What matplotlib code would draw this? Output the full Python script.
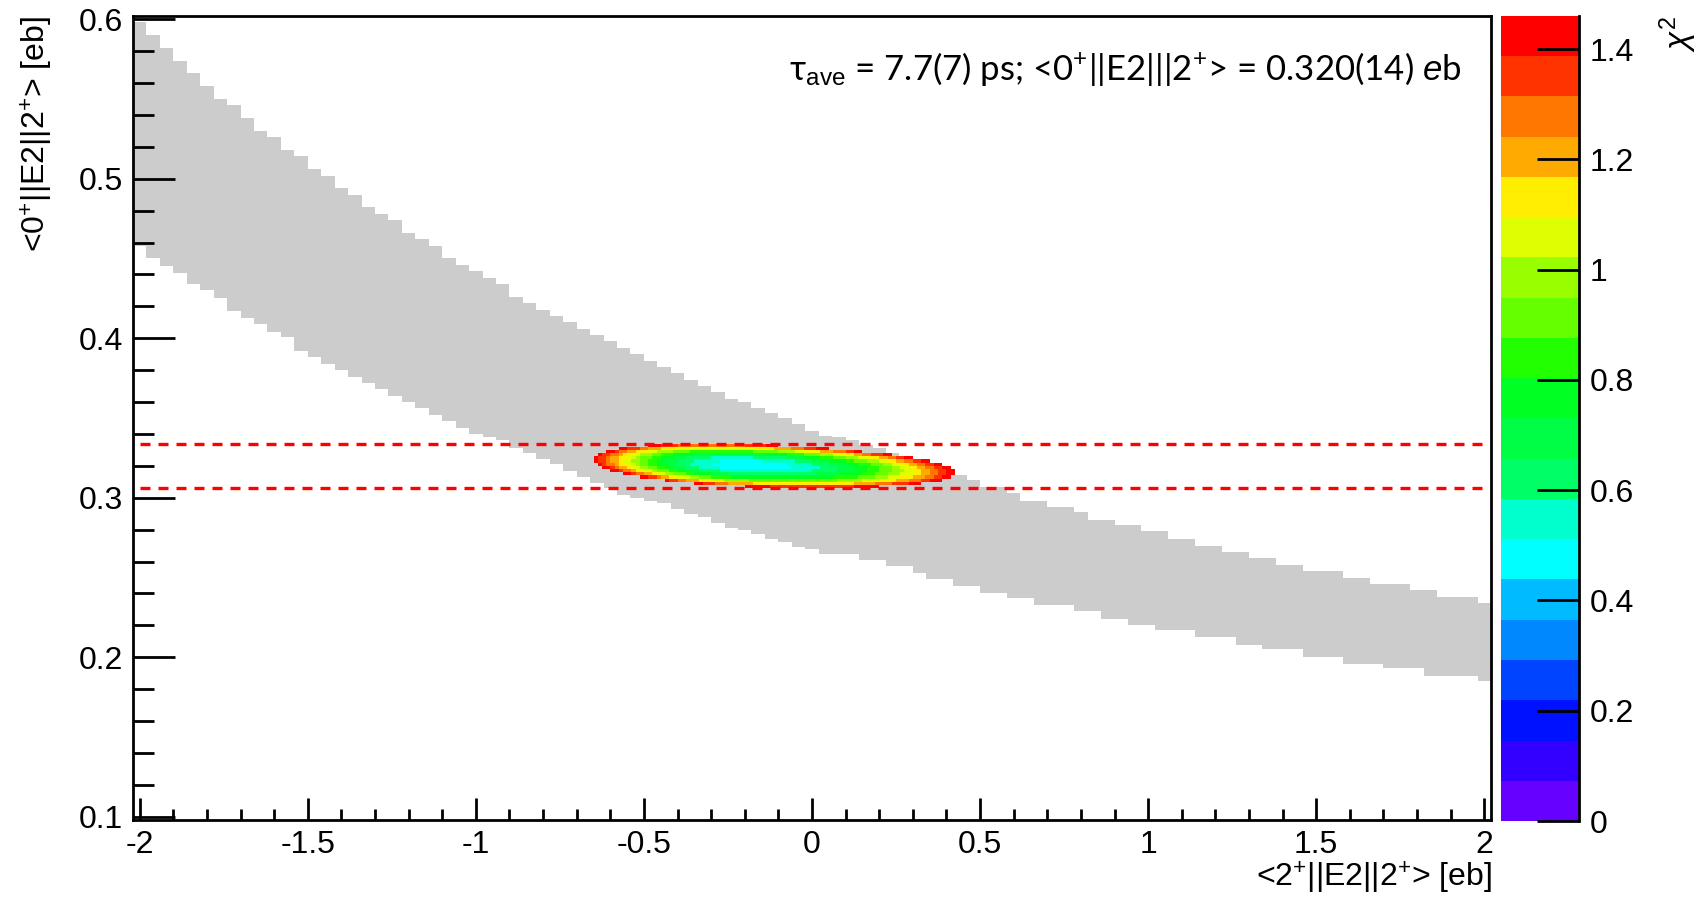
import numpy as np
import matplotlib
matplotlib.use("Agg")
import matplotlib.pyplot as plt
from matplotlib.colors import ListedColormap, BoundaryNorm
from matplotlib.ticker import MultipleLocator, FuncFormatter

# allowed band (grey), one value per x bin (bin width 0.04)
band_x = np.round(np.linspace(-2.0, 2.0, 101), 2)
band_upper = [0.598, 0.590, 0.582, 0.574, 0.566, 0.558, 0.550, 0.546, 0.538, 0.530,
              0.526, 0.518, 0.514, 0.506, 0.502, 0.494, 0.490, 0.482, 0.478, 0.474,
              0.466, 0.462, 0.458, 0.450, 0.446, 0.442, 0.438, 0.434, 0.426, 0.422,
              0.418, 0.414, 0.410, 0.406, 0.402, 0.398, 0.394, 0.390, 0.386, 0.382,
              0.378, 0.374, 0.370, 0.366, 0.362, 0.360, 0.356, 0.353, 0.350, 0.346,
              0.342, 0.339, 0.338, 0.336, 0.333, 0.331, 0.328, 0.325, 0.322, 0.319,
              0.316, 0.314, 0.311, 0.307, 0.307, 0.303, 0.298, 0.298, 0.294, 0.294,
              0.291, 0.286, 0.286, 0.283, 0.283, 0.279, 0.279, 0.274, 0.274, 0.270,
              0.270, 0.266, 0.266, 0.262, 0.262, 0.258, 0.258, 0.254, 0.254, 0.254,
              0.250, 0.250, 0.246, 0.246, 0.246, 0.242, 0.242, 0.238, 0.238, 0.238,
              0.234]
band_lower = [0.458, 0.450, 0.445, 0.441, 0.434, 0.430, 0.425, 0.417, 0.413, 0.409,
              0.404, 0.401, 0.392, 0.388, 0.384, 0.380, 0.376, 0.372, 0.368, 0.364,
              0.360, 0.356, 0.352, 0.348, 0.344, 0.340, 0.338, 0.336, 0.331, 0.328,
              0.324, 0.321, 0.317, 0.313, 0.309, 0.306, 0.302, 0.300, 0.298, 0.297,
              0.293, 0.290, 0.288, 0.284, 0.281, 0.280, 0.277, 0.274, 0.272, 0.269,
              0.268, 0.265, 0.265, 0.265, 0.261, 0.261, 0.257, 0.257, 0.253, 0.249,
              0.249, 0.245, 0.245, 0.240, 0.240, 0.237, 0.237, 0.233, 0.233, 0.233,
              0.229, 0.229, 0.224, 0.224, 0.220, 0.220, 0.217, 0.217, 0.217, 0.213,
              0.213, 0.213, 0.208, 0.208, 0.205, 0.205, 0.205, 0.200, 0.200, 0.200,
              0.196, 0.196, 0.196, 0.193, 0.193, 0.193, 0.188, 0.188, 0.188, 0.188,
              0.185]

# chi2 minimum and extent of the chi2 < chi2_max region
fit_x0 = -0.20
fit_y0 = 0.3205
fit_slope = -0.0077
chi2_min = 0.46
chi2_max = 1.46
half_left = 0.45
half_right = 0.63
half_y = 0.0135

# measured value of <0+||E2||2+> with error (dashed lines)
me_value = 0.320
me_error = 0.014

palette = ["#6600ff", "#3300ff", "#0011ff", "#0044ff", "#0088ff", "#00bbff", "#00ffff",
           "#00ffcc", "#00ff66", "#00ff44", "#00ff22", "#22ff00", "#66ff00", "#99ff00",
           "#ddff00", "#ffee00", "#ffaa00", "#ff7700", "#ff3300", "#ff0000"]

plt.rcParams["font.family"] = ["Liberation Sans", "DejaVu Sans"]
plt.rcParams["mathtext.fontset"] = "custom"
plt.rcParams["mathtext.rm"] = "Liberation Sans"
plt.rcParams["mathtext.it"] = "Liberation Sans:italic"
plt.rcParams["mathtext.bf"] = "Liberation Sans:bold"
plt.rcParams["axes.unicode_minus"] = False

W, H = 1703, 897
fig = plt.figure(figsize=(W / 100, H / 100), dpi=100)
ax = fig.add_axes([133 / W, (H - 820) / H, (1491 - 133) / W, (820 - 16) / H])
cax = fig.add_axes([1501 / W, (H - 821) / H, 78 / W, (821 - 16) / H])

# grey band
edges = np.append(band_x - 0.02, band_x[-1] + 0.02)
ax.fill_between(edges, np.append(band_lower, band_lower[-1]),
                np.append(band_upper, band_upper[-1]),
                step="post", color="#cccccc", lw=0, zorder=1)

# chi2 surface
gx = np.arange(-1.0, 0.8 + 1e-9, 0.0125)
gy = np.arange(0.28, 0.36 + 1e-9, 0.002)
cx = 0.5 * (gx[1:] + gx[:-1])
cy = 0.5 * (gy[1:] + gy[:-1])
X, Y = np.meshgrid(cx, cy)
sx = np.where(X < fit_x0, half_left, half_right)
u = (X - fit_x0) / sx
v = (Y - fit_y0 - fit_slope * (X - fit_x0)) / half_y
chi2 = chi2_min + (chi2_max - chi2_min) * (u ** 2 + v ** 2)
chi2 = np.ma.masked_where(chi2 > chi2_max, chi2)

cmap = ListedColormap(palette)
levels = np.linspace(0, chi2_max, len(palette) + 1)
norm = BoundaryNorm(levels, cmap.N)
mesh = ax.pcolormesh(gx, gy, chi2, cmap=cmap, norm=norm, zorder=2)

# dashed lines for the measured value
for yv in [me_value + me_error, me_value - me_error]:
    ax.hlines(yv, -2.0, 2.0, colors="#ff0000", lw=2.4,
              linestyles=(0, (3, 2.4)), zorder=3)

ax.set_xlim(-2.02, 2.02)
ax.set_ylim(0.098, 0.602)

fmt = FuncFormatter(lambda v, p: f"{v:g}")
ax.xaxis.set_major_locator(MultipleLocator(0.5))
ax.xaxis.set_minor_locator(MultipleLocator(0.1))
ax.yaxis.set_major_locator(MultipleLocator(0.1))
ax.yaxis.set_minor_locator(MultipleLocator(0.02))
ax.xaxis.set_major_formatter(fmt)
ax.yaxis.set_major_formatter(fmt)
ax.tick_params(axis="x", which="major", direction="in", length=16, width=2,
               labelsize=23, pad=7, top=False)
ax.tick_params(axis="x", which="minor", direction="in", length=8, width=2, top=False)
ax.tick_params(axis="y", which="major", direction="in", length=30, width=2,
               labelsize=23, pad=7, right=False)
ax.tick_params(axis="y", which="minor", direction="in", length=15, width=2, right=False)
for s in ax.spines.values():
    s.set_linewidth(2)

# colour scale
cb = fig.colorbar(mesh, cax=cax, ticks=[0, 0.2, 0.4, 0.6, 0.8, 1.0, 1.2, 1.4])
cb.outline.set_visible(False)
cb.minorticks_off()
cax.yaxis.set_ticks_position("right")
cax.yaxis.set_major_formatter(fmt)
cax.tick_params(axis="y", direction="in", length=30, width=2, labelsize=23, pad=8)
cax.plot([1, 1], [0, 1], transform=cax.transAxes, color="black", lw=2, clip_on=False)

# labels
fig.text(37 / W, 1 - 16 / H, r"<0$^{+}$||E2||2$^{+}$> [eb]", rotation=90,
         ha="center", va="top", fontsize=23)
fig.text(1492 / W, 1 - 878 / H, r"<2$^{+}$||E2||2$^{+}$> [eb]",
         ha="right", va="center", fontsize=23)
fig.text(1678 / W, 1 - 16 / H, r"$\chi^{2}$", rotation=90,
         ha="center", va="top", fontsize=24)
fig.text(1462 / W, 1 - 80 / H,
         "τ$_{\\rm ave}$ = 7.7(7) ps; <0$^{+}$||E2|||2$^{+}$> = 0.320(14) $\\it{e}$b",
         ha="right", va="baseline", fontsize=25, family=["Lato", "DejaVu Sans"])

fig.savefig("out.png", dpi=100)
